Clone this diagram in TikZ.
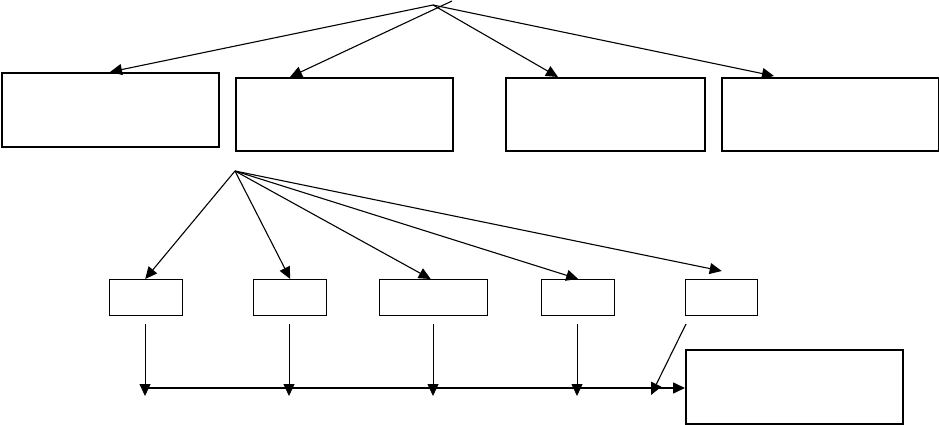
\documentclass[tikz,border=0pt]{standalone}
\usetikzlibrary{arrows.meta}
\begin{document}
\begin{tikzpicture}[x=1pt,y=-1pt,
  bigbox/.style={draw,line width=1.8pt,rectangle,anchor=north west,inner sep=0pt},
  smallbox/.style={draw,line width=1.4pt,rectangle,anchor=north west,inner sep=0pt,minimum height=36pt},
  arr/.style={line width=1.1pt,-{Triangle[length=12pt,width=11pt]}},
  thinarr/.style={line width=0.8pt,-{Triangle[length=12pt,width=11pt]}},
  busarr/.style={line width=1.5pt,-{Triangle[length=12pt,width=11pt]}}]
\useasboundingbox (0,0) rectangle (939,425);
% top boxes
\node[bigbox,minimum width=217pt,minimum height=74pt] (b1) at (1,72) {};
\node[bigbox,minimum width=217pt,minimum height=73pt] (b2) at (235,77) {};
\node[bigbox,minimum width=199pt,minimum height=73pt] (b3) at (505,77) {};
\node[bigbox,minimum width=217pt,minimum height=73pt] (b4) at (721,77) {};
% top apex
\coordinate (top) at (433,5);
\coordinate (top2) at (452,1);
\draw[arr] (top) -- ([xshift=109pt]b1.north west);
\draw[arr] (top2) -- ([xshift=55pt]b2.north west);
\draw[arr] (top) -- ([xshift=53pt]b3.north west);
\draw[arr] (top) -- ([xshift=53pt,yshift=1pt]b4.north west);
% small boxes
\node[smallbox,minimum width=73pt] (s1) at (109,279) {};
\node[smallbox,minimum width=73pt] (s2) at (253,279) {};
\node[smallbox,minimum width=108pt] (s3) at (379,279) {};
\node[smallbox,minimum width=73pt] (s4) at (541,279) {};
\node[smallbox,minimum width=72pt] (s5) at (685,279) {};
% big bottom box
\node[bigbox,minimum width=217pt,minimum height=74pt] (res) at (685,349) {};
% second apex
\coordinate (mid) at (235,171);
\draw[arr] (mid) -- ([xshift=-1pt]s1.north);
\draw[arr] (mid) -- (s2.north);
\draw[arr] (mid) -- ([xshift=-3pt]s3.north);
\draw[arr] (mid) -- (s4.north);
\draw[arr] (mid) -- ([yshift=8pt]s5.north);
% verticals to bus
\coordinate (v1a) at (145,324); \coordinate (v1b) at (145,396);
\coordinate (v2a) at (289,324); \coordinate (v2b) at (289,396);
\coordinate (v3a) at (433,324); \coordinate (v3b) at (433,396);
\coordinate (v4a) at (577,324); \coordinate (v4b) at (577,396);
\draw[thinarr] (v1a) -- (v1b);
\draw[thinarr] (v2a) -- (v2b);
\draw[thinarr] (v3a) -- (v3b);
\draw[thinarr] (v4a) -- (v4b);
% bus
\coordinate (busstart) at (145,388);
\draw[busarr] (busstart) -- (res.west |- busstart);
% slanted
\coordinate (sa) at (686,324); \coordinate (sb) at (651,395);
\draw[arr] (sa) -- (sb);
\end{tikzpicture}
\end{document}
